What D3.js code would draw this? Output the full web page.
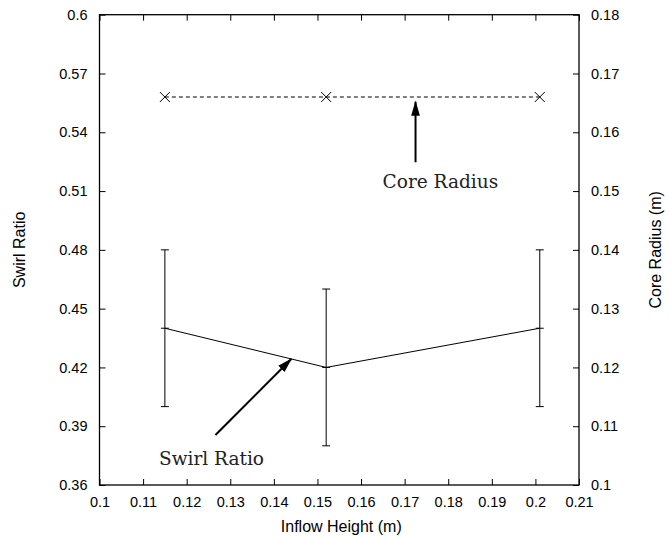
<!DOCTYPE html>
<html><head><meta charset="utf-8">
<script src="https://cdn.jsdelivr.net/npm/d3@7"></script>
<style>body{margin:0;background:#fff}svg{display:block}</style>
</head><body>
<script>
const inflowHeight = [0.115, 0.152, 0.201];
const swirlRatio = [0.44, 0.42, 0.44];
const swirlLow = [0.40, 0.38, 0.40];
const swirlHigh = [0.48, 0.46, 0.48];
const coreRadius = [0.166, 0.166, 0.166];
const xTicks = [0.1,0.11,0.12,0.13,0.14,0.15,0.16,0.17,0.18,0.19,0.2,0.21];
const yLeftTicks = [0.36,0.39,0.42,0.45,0.48,0.51,0.54,0.57,0.6];
const yRightTicks = [0.1,0.11,0.12,0.13,0.14,0.15,0.16,0.17,0.18];

const W=669,H=537;
const L=99.5,R=579,T=14.7,B=485;
const svg=d3.select("body").append("svg").attr("width",W).attr("height",H);
const x=d3.scaleLinear().domain([0.1,0.21]).range([L,R]);
const yl=d3.scaleLinear().domain([0.36,0.6]).range([B,T]);
const yr=d3.scaleLinear().domain([0.1,0.18]).range([B,T]);
const font="Liberation Sans, Arial, sans-serif";
const fmt=d=>String(+d.toFixed(2));

svg.append("defs").append("marker").attr("id","ah").attr("viewBox","0 0 15 10")
 .attr("refX",14).attr("refY",5).attr("markerWidth",15).attr("markerHeight",10)
 .attr("markerUnits","userSpaceOnUse").attr("orient","auto")
 .append("path").attr("d","M0,0.6 L15,5 L0,9.4 Z").attr("fill","#000");

const tl=6;
const ax=(g,axis)=>{g.call(axis);g.select(".domain").remove();g.selectAll("text").attr("font-family",font).attr("font-size",14.5).attr("fill","#000");g.selectAll("line").attr("stroke","#000");};
svg.append("g").attr("transform",`translate(0,${B})`).call(g=>ax(g,d3.axisBottom(x).tickValues(xTicks).tickFormat(fmt).tickSizeInner(-tl).tickPadding(12)));
svg.append("g").attr("transform",`translate(0,${T})`).call(g=>ax(g,d3.axisTop(x).tickValues(xTicks).tickFormat("").tickSizeInner(-tl)));
svg.append("g").attr("transform",`translate(${L},0)`).call(g=>ax(g,d3.axisLeft(yl).tickValues(yLeftTicks).tickFormat(fmt).tickSizeInner(-tl).tickPadding(12)));
svg.append("g").attr("transform",`translate(${R},0)`).call(g=>ax(g,d3.axisRight(yr).tickValues(yRightTicks).tickFormat(fmt).tickSizeInner(-tl).tickPadding(12)));
svg.append("rect").attr("x",L).attr("y",T).attr("width",R-L).attr("height",B-T).attr("fill","none").attr("stroke","#000").attr("stroke-width",1.3);

const idx=d3.range(inflowHeight.length);
svg.append("path").attr("d",d3.line().x(i=>x(inflowHeight[i])).y(i=>yl(swirlRatio[i]))(idx)).attr("fill","none").attr("stroke","#000").attr("stroke-width",1);
const eb=svg.append("g").attr("stroke","#000").attr("stroke-width",1);
idx.forEach(i=>{
  const cx=x(inflowHeight[i]);
  eb.append("line").attr("x1",cx).attr("x2",cx).attr("y1",yl(swirlLow[i])).attr("y2",yl(swirlHigh[i]));
  [swirlLow[i],swirlHigh[i]].forEach(v=>eb.append("line").attr("x1",cx-4).attr("x2",cx+4).attr("y1",yl(v)).attr("y2",yl(v)));
  eb.append("line").attr("x1",cx-4).attr("x2",cx+4).attr("y1",yl(swirlRatio[i])).attr("y2",yl(swirlRatio[i]));
});
svg.append("path").attr("d",d3.line().x(i=>x(inflowHeight[i])).y(i=>yr(coreRadius[i]))(idx)).attr("fill","none").attr("stroke","#000").attr("stroke-width",1).attr("stroke-dasharray","4,3");
idx.forEach(i=>{
  const cx=x(inflowHeight[i]),cy=yr(coreRadius[i]),s=5;
  svg.append("path").attr("d",`M${cx-s},${cy-s}L${cx+s},${cy+s}M${cx-s},${cy+s}L${cx+s},${cy-s}`).attr("stroke","#000").attr("stroke-width",1);
});

// annotations
svg.append("line").attr("x1",x(0.1725)).attr("x2",x(0.1725)).attr("y1",yr(0.1549)).attr("y2",yr(0.1652)).attr("stroke","#000").attr("stroke-width",2).attr("marker-end","url(#ah)");
svg.append("text").attr("x",x(0.1782)).attr("y",yr(0.1505)).attr("text-anchor","middle").attr("font-family","DejaVu Serif, serif").attr("font-size",18.5).attr("fill","#222").text("Core Radius");
svg.append("line").attr("x1",x(0.1266)).attr("x2",x(0.1440)).attr("y1",yl(0.3855)).attr("y2",yl(0.4243)).attr("stroke","#000").attr("stroke-width",2).attr("marker-end","url(#ah)");
svg.append("text").attr("x",x(0.1257)).attr("y",yl(0.3703)).attr("text-anchor","middle").attr("font-family","DejaVu Serif, serif").attr("font-size",18.5).attr("fill","#222").text("Swirl Ratio");

// axis titles
svg.append("text").attr("x",(L+R)/2+2).attr("y",532).attr("text-anchor","middle").attr("font-family",font).attr("font-size",16).text("Inflow Height (m)");
svg.append("text").attr("transform",`translate(25,${(T+B)/2}) rotate(-90)`).attr("text-anchor","middle").attr("font-family",font).attr("font-size",16).text("Swirl Ratio");
svg.append("text").attr("transform",`translate(661,${(T+B)/2}) rotate(-90)`).attr("text-anchor","middle").attr("font-family",font).attr("font-size",16).text("Core Radius (m)");
</script>
</body></html>
